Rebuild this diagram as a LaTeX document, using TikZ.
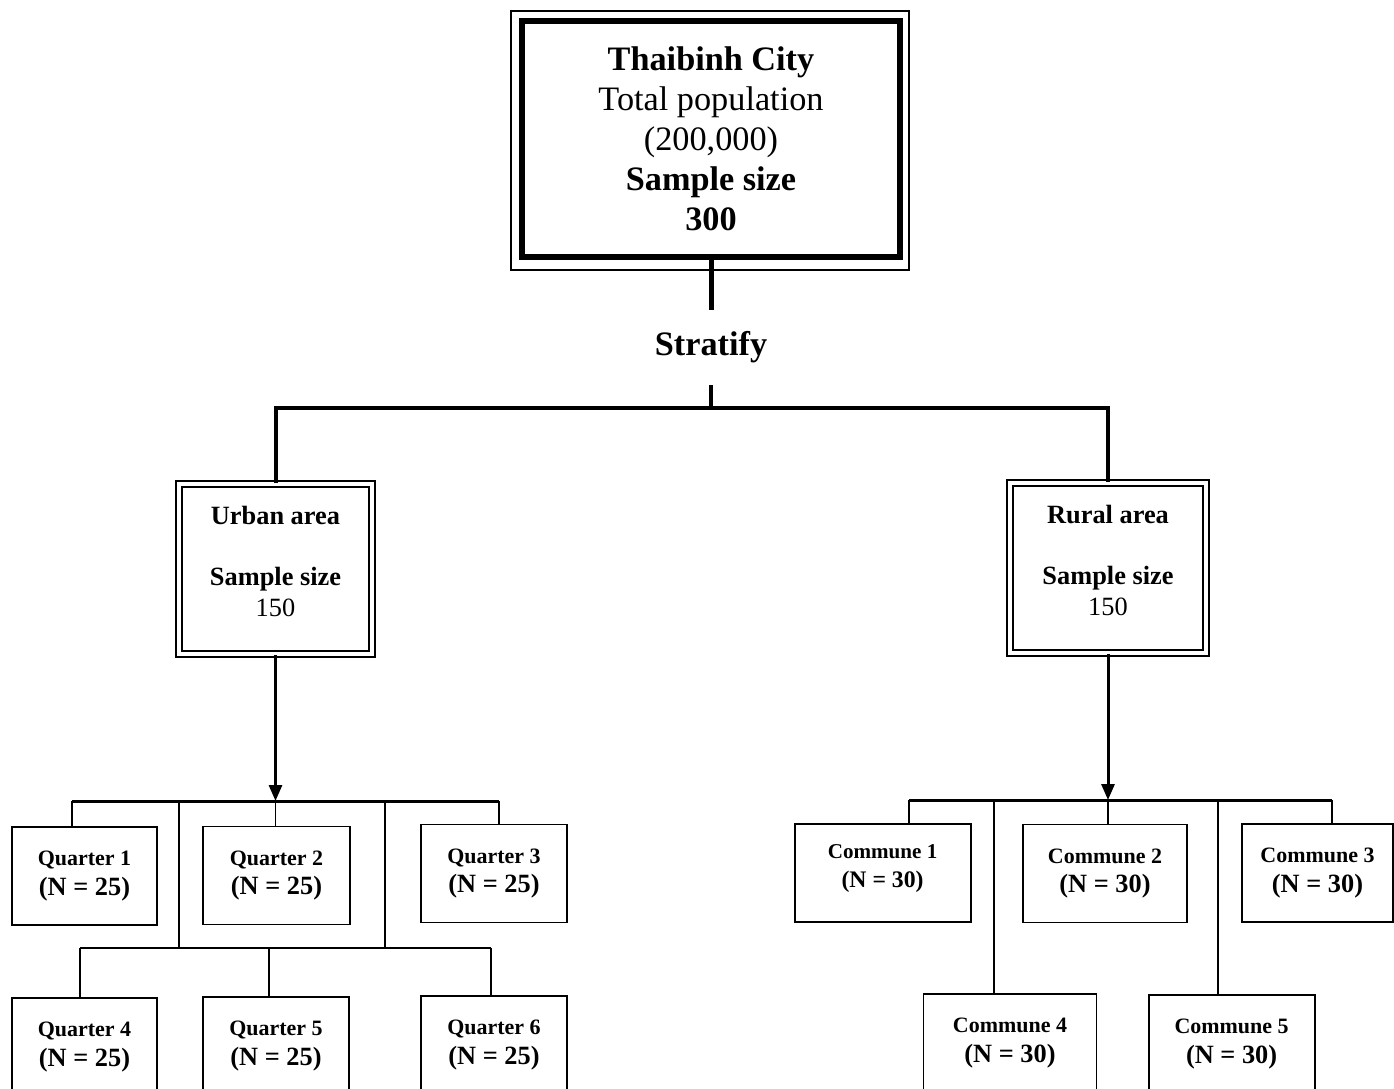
\documentclass[tikz,border=0pt]{standalone}
\usepackage{fontspec}
\setmainfont{Liberation Serif}
\usetikzlibrary{arrows.meta}
\newcommand{\sizeN}[2][15]{{\fontsize{#1}{17}\selectfont (N = #2)}}

\begin{document}
\begin{tikzpicture}[x = 0.02cm, y = -0.02cm,
  bigfont/.style = {font = \fontsize{19.5}{22.8}\selectfont},
  areabox/.style = {draw, line width = 1.1pt, double, double distance = 0.08cm,
    minimum width = #1, minimum height = 3.4cm, align = center,
    font = \fontsize{15}{17.6}\selectfont},
  qbox/.style = {draw, line width = 1.1pt, minimum width = #1, minimum height = 1.96cm,
    inner sep = 0pt, align = center, font = \bfseries\fontsize{12.5}{17}\selectfont},
  heavy/.style = {line width = 0.08cm},
  tip/.style = {line width = 0.06cm, -{Triangle[length = 0.32cm, width = 0.26cm]}},
  branch/.style = {line width = 1.1pt}]
\useasboundingbox (0,0) rectangle (1394,1089);

\node (city) [bigfont, draw, line width = 0.12cm, minimum width = 7.56cm,
  minimum height = 4.72cm, align = center] at (711,139)
  {\textbf{Thaibinh City}\\ Total population\\ (200,000)\\
   \textbf{Sample size}\\ \textbf{300}};
\draw [line width = 0.8pt] ([shift = {(-8,-7)}]city.north west)
  rectangle ([shift = {(6,10)}]city.south east);
\node (strat) [font = \bfseries\fontsize{19.5}{22.8}\selectfont,
  minimum height = 1.5cm, inner sep = 0pt] at (711,347.5) {Stratify};
\coordinate (split) at (711,408);

\node (urban) [areabox = 3.86cm] at (275.5,569)
  {\textbf{Urban area}\\[17pt] \textbf{Sample size}\\ 150\rule[-0.32cm]{0pt}{0pt}};
\node (rural) [areabox = 3.92cm] at (1108,568)
  {\textbf{Rural area}\\[17pt] \textbf{Sample size}\\ 150\rule[-0.32cm]{0pt}{0pt}};

\draw [line width = 0.1cm] (city.south) -- (strat.north);
\draw [heavy] (strat.south) -- (split);
\draw [heavy] (urban.north) |- (split) -| (rural.north);

\node (Q1) [qbox = 2.9cm]  at (84.5,876)    {Quarter 1\\\sizeN{25}};
\node (Q2) [qbox = 2.94cm] at (276.5,875.5) {Quarter 2\\\sizeN{25}};
\node (Q3) [qbox = 2.92cm] at (494,873.5)   {Quarter 3\\\sizeN{25}};
\node (Q4) [qbox = 2.9cm]  at (84.5,1047)   {Quarter 4\\\sizeN{25}};
\node (Q5) [qbox = 2.92cm] at (276,1046)    {Quarter 5\\\sizeN{25}};
\node (Q6) [qbox = 2.92cm] at (494,1045)    {Quarter 6\\\sizeN{25}};

\coordinate (ub)  at (275.5,801);
\coordinate (ubl) at (72,801);
\coordinate (ubr) at (499,801);
\coordinate (lb1) at (179,948);
\coordinate (lb2) at (385,948);
\coordinate (lbl) at (80,948);
\coordinate (lbm) at (269,948);
\coordinate (lbr) at (491,948);
\draw [tip] (urban.south) -- (ub);
\draw [line width = 0.06cm] (ubl) -- (ubr);
\draw [branch] (ubl) -- (ubl |- Q1.north);
\draw [branch] (ub) -- (ub |- Q2.north);
\draw [branch] (ubr) -- (ubr |- Q3.north);
\draw [branch] (lb1 |- ub) -- (lb1);
\draw [branch] (lb2 |- ub) -- (lb2);
\draw [branch] (lbl) -- (lbr);
\draw [branch] (lbl) -- (lbl |- Q4.north);
\draw [branch] (lbm) -- (lbm |- Q5.north);
\draw [branch] (lbr) -- (lbr |- Q6.north);

\node (C1) [qbox = 3.52cm, font = \bfseries\fontsize{12}{17}\selectfont]
  at (882.6,873) {Commune 1\\\sizeN[13.5]{30}\rule[-0.28cm]{0pt}{0pt}};
\node (C2) [qbox = 3.27cm] at (1105,873.5)  {Commune 2\\\sizeN{30}};
\node (C3) [qbox = 3.02cm] at (1317.5,873)  {Commune 3\\\sizeN{30}};
\node (C4) [qbox = 3.46cm] at (1010,1043)   {Commune 4\\\sizeN{30}};
\node (C5) [qbox = 3.32cm] at (1231.6,1044) {Commune 5\\\sizeN{30}};

\coordinate (rb)  at (1108,800);
\coordinate (rbl) at (909,800);
\coordinate (rb1) at (994,800);
\coordinate (rb2) at (1218,800);
\coordinate (rbr) at (1332,800);
\draw [tip] (rural.south) -- (rb);
\draw [line width = 0.06cm] (rbl) -- (rbr);
\draw [branch] (rbl) -- (rbl |- C1.north);
\draw [branch] (rb) -- (rb |- C2.north);
\draw [branch] (rbr) -- (rbr |- C3.north);
\draw [branch] (rb1) -- (rb1 |- C4.north);
\draw [branch] (rb2) -- (rb2 |- C5.north);
\end{tikzpicture}
\end{document}
